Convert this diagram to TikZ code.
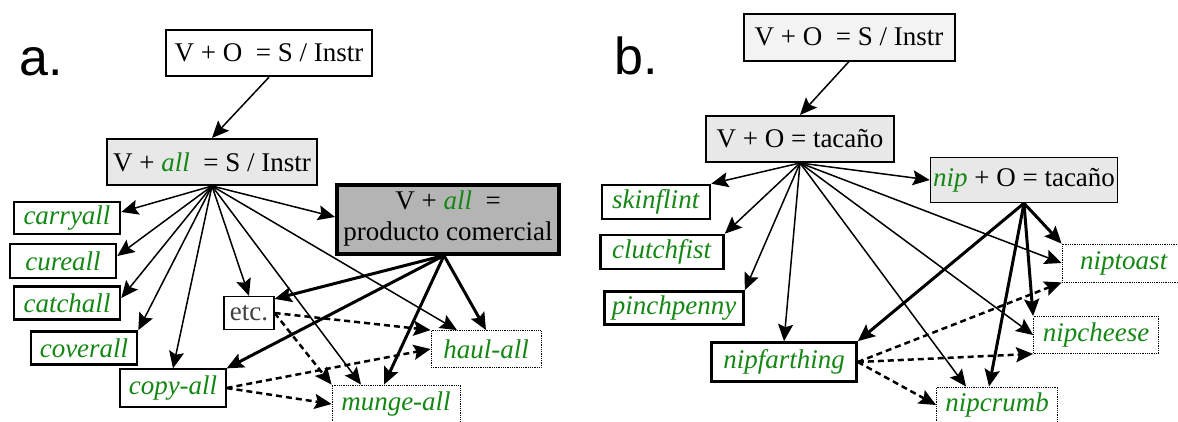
\documentclass[tikz,border=0pt]{standalone}
\usepackage{fontspec}
\setmainfont{LiberationSerif}[Extension=.ttf, UprightFont=*-Regular, ItalicFont=*-Italic, BoldFont=*-Bold, BoldItalicFont=*-BoldItalic]
\newfontfamily\panelfont{Liberation Sans}
\usetikzlibrary{arrows.meta}
\definecolor{wordgreen}{RGB}{20,135,20}
\definecolor{lightbox}{RGB}{232,232,232}
\definecolor{palebox}{RGB}{243,243,243}
\definecolor{darkbox}{RGB}{180,180,180}
\newcommand{\gw}[1]{\textcolor{wordgreen}{\textit{#1}}}

\begin{document}
\begin{tikzpicture}[x=1pt, y=-1pt,
		every node/.style={font=\fontsize{27}{31}\selectfont, inner sep=0pt, align=center},
		panel/.style={font=\panelfont\fontsize{52}{52}\selectfont},
		box/.style={draw, line width=2pt},
		wordbox/.style={draw, line width=2.6pt},
		thinbox/.style={draw, line width=1.2pt},
		dotbox/.style={draw, line width=0.8pt, dash pattern=on 0.8pt off 1pt},
		thin/.style={-{Stealth[length=17pt,width=15pt,inset=3pt]}, line width=1.5pt},
		thick/.style={-{Stealth[length=17pt,width=15pt,inset=3pt]}, line width=3pt},
		dasharrow/.style={-{Stealth[length=17pt,width=15pt,inset=3pt]}, line width=2.5pt, dash pattern=on 6pt off 4pt}]
			\useasboundingbox (0,0) rectangle (1178,421);
			% a.
			\node[panel] (alabel) at (41,62) {a.};
			\node[box, line width=2.3pt, fill=white, minimum width=206pt, minimum height=46pt] (topa) at (269,53) {V + O\ \ = S / Instr};
			\node[box, fill=lightbox, minimum width=210pt, minimum height=46pt] (alla) at (212,162) {V + \gw{all}\ \ = S / Instr};
			\node[box, line width=4pt, fill=darkbox, minimum width=222pt, minimum height=69pt] (prod) at (448,219) {V + \gw{all}\ \ =\\producto comercial};
			\node[wordbox, minimum width=106pt, minimum height=32pt] (carry) at (67,218) {\gw{carryall}};
			\node[wordbox, minimum width=106pt, minimum height=34pt] (cure) at (63,261) {\gw{cureall}};
			\node[wordbox, minimum width=106pt, minimum height=33pt] (catch) at (67,303) {\gw{catchall}};
			\node[wordbox, minimum width=106pt, minimum height=33pt] (cover) at (84,348) {\gw{coverall}};
			\node[thinbox, minimum width=106pt, minimum height=38pt] (copy) at (173,388) {\gw{copy-all}};
			\node[thinbox, text=black!75, minimum width=50pt, minimum height=33pt] (etc) at (249,313) {etc.};
			\node[dotbox, minimum width=110pt, minimum height=37pt] (haul) at (486,349) {\gw{haul-all}};
			\node[dotbox, minimum width=128pt, minimum height=38pt] (munge) at (396,404) {\gw{munge-all}};
			\draw[thin] (topa.south) -- (alla.north);
			\draw[thin] (alla.south) -- ([yshift=6pt]carry.east); \draw[thin] (alla.south) -- ([yshift=5pt]cure.east);
			\draw[thin] (alla.south) -- ([yshift=5pt]catch.east); \draw[thin] (alla.south) -- (cover.north east);
			\draw[thin] (alla.south) -- (copy.north); \draw[thin] (alla.south) -- (etc.north);
			\draw[thin] (alla.south) -- ([xshift=-35pt]munge.north); \draw[thin] (alla.south) -- ([xshift=-29pt]haul.north);
			\draw[thin] (alla.south) -- ([yshift=2pt]prod.west);
			\draw[thick] ([xshift=-4pt]prod.south) -- ([yshift=-3pt]etc.north east);
			\draw[thick] ([xshift=-4pt]prod.south) -- (copy.north east);
			\draw[thick] ([xshift=-4pt]prod.south) -- ([xshift=-12pt]munge.north);
			\draw[thick] ([xshift=-4pt]prod.south) -- (haul.north);
			\draw[dasharrow] (etc.east) -- (haul.north west); \draw[dasharrow] (etc.east) -- (munge.north west);
			\draw[dasharrow] (copy.east) -- (haul.west); \draw[dasharrow] (copy.east) -- (munge.west);
			% b.
			\node[panel] (blabel) at (636,56) {b.};
			\node[box, fill=palebox, minimum width=211pt, minimum height=47pt] (topb) at (849,37) {V + O\ \ = S / Instr};
			\node[box, fill=lightbox, minimum width=188pt, minimum height=46pt] (tacano) at (800,139) {V + O = tacaño};
			\node[thinbox, line width=1.5pt, fill=lightbox, minimum width=187pt, minimum height=45pt] (nipv) at (1024,180) {\gw{nip} + O = tacaño};
			\node[wordbox, minimum width=108pt, minimum height=34pt] (skin) at (656,202) {\gw{skinflint}};
			\node[wordbox, minimum width=123pt, minimum height=34pt] (clutch) at (662,252) {\gw{clutchfist}};
			\node[wordbox, minimum width=139pt, minimum height=33pt] (pinch) at (674,308) {\gw{pinchpenny}};
			\node[wordbox, minimum width=145pt, minimum height=39pt] (farth) at (784,362) {\gw{nipfarthing}};
			\node[dotbox, minimum width=124pt, minimum height=38pt] (toast) at (1124,263) {\gw{niptoast}};
			\node[dotbox, minimum width=125pt, minimum height=37pt] (cheese) at (1096,335) {\gw{nipcheese}};
			\node[dotbox, minimum width=121pt, minimum height=36pt] (crumb) at (997,405) {\gw{nipcrumb}};
			\draw[thin] (topb.south) -- (tacano.north);
			\draw[thin] (tacano.south) -- (skin.north east); \draw[thin] (tacano.south) -- (nipv.west);
			\draw[thin] (tacano.south) -- (clutch.north east); \draw[thin] (tacano.south) -- (pinch.north east);
			\draw[thin] (tacano.south) -- (farth.north); \draw[thin] (tacano.south) -- ([xshift=-31pt]crumb.north);
			\draw[thin] (tacano.south) -- (cheese.west); \draw[thin] (tacano.south) -- (toast.west);
			\draw[thick] (nipv.south) -- (farth.north east); \draw[thick] (nipv.south) -- ([xshift=-8pt]crumb.north);
			\draw[thick] (nipv.south) -- (cheese.north west); \draw[thick] (nipv.south) -- (toast.north west);
			\draw[dasharrow] (farth.east) -- (toast.south west); \draw[dasharrow] (farth.east) -- (cheese.south west);
			\draw[dasharrow] (farth.east) -- (crumb.west);
		\end{tikzpicture}
\end{document}
